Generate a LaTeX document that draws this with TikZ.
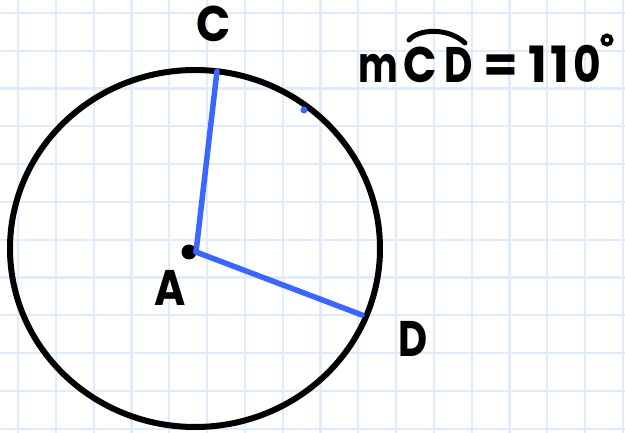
\documentclass[tikz,border=0pt]{standalone}
\usepackage{fontspec}
\setmainfont{Poppins}
\definecolor{gridblue}{RGB}{224,236,252}
\definecolor{penblue}{RGB}{59,102,255}
\tikzset{
  gridline/.style={draw=gridblue, line width=2.2pt},
  ink/.style={draw=black, line width=6pt},
  radius line/.style={draw=penblue, line width=5.5pt, line cap=round},
  hand/.style={font=\fontsize{50}{50}\selectfont\bfseries, inner sep=0pt, text=black},
}
\begin{document}
\begin{tikzpicture}[x=1pt,y=-1pt]
\useasboundingbox[fill=white] (0,0) rectangle (625,433);
% grid
\foreach \k in {0,...,16} \draw[gridline] (18+37.8*\k,0) -- (18+37.8*\k,433);
\foreach \k in {0,...,11} \draw[gridline] (0,13+37.8*\k) -- (625,13+37.8*\k);
% circle
\draw[ink] (195,248.5) ellipse [x radius=185, y radius=178.5];
% points
\coordinate (A) at (196,252);
\coordinate (C) at (217,71);
\coordinate (D) at (362,315);
\node[circle, fill=black, inner sep=0pt, minimum size=15pt] (dotA) at (189,252) {};
\draw[radius line] (A) -- (C);
\draw[radius line] (A) -- (D);
\node[circle, fill=penblue, inner sep=0pt, minimum size=7pt] (mark) at (304,110) {};
% labels
\node[hand, anchor=base, xscale=0.9] (labC) at (214,42) {C};
\node[hand, anchor=base, xscale=0.85] (labA) at (170,306) {A};
\node[hand, anchor=base, xscale=0.8] (labD) at (413,356) {D};
% measure
\node[hand, anchor=base, xscale=0.75] (tm) at (378,83) {m};
\node[hand, anchor=base, xscale=0.88] (tC) at (420,83) {C};
\node[hand, anchor=base, xscale=0.78] (tD) at (459,83) {D};
\node[hand, anchor=base] (teq) at (501,83) {=};
\node[hand, anchor=base] (t1a) at (538,83) {1};
\node[hand, anchor=base] (t1b) at (560,83) {1};
\node[hand, anchor=base, xscale=0.85] (t0) at (587,83) {0};
\node[circle, draw=black, line width=4pt, inner sep=0pt, minimum size=9pt] (tdeg) at (607,40) {};
\draw[ink, line width=5pt, line cap=round] (409,40) .. controls (418,29) and (448,27) .. (465,43);
\end{tikzpicture}
\end{document}
